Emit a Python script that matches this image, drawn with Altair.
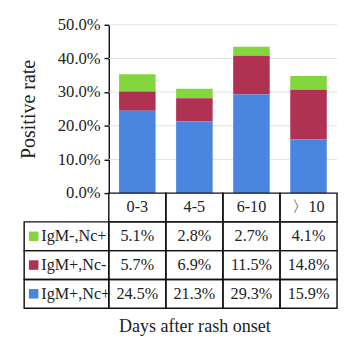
import altair as alt
import pandas as pd

categories = ["0-3", "4-5", "6-10", "〉10"]
series = ["IgM-,Nc+", "IgM+,Nc-", "IgM+,Nc+"]
green_vals = [5.1, 2.8, 2.7, 4.1]
red_vals = [5.7, 6.9, 11.5, 14.8]
blue_vals = [24.5, 21.3, 29.3, 15.9]
colors = ["#84D63E", "#B03252", "#4A86E0"]
y_ticks = [0, 10, 20, 30, 40, 50]

FONT = "Liberation Serif"
LEG = -1.483  # legend column start, in column units
W = 329
px_per_col = W / (4 - LEG)

vals = {"IgM-,Nc+": green_vals, "IgM+,Nc-": red_vals, "IgM+,Nc+": blue_vals}
stack_order = {"IgM+,Nc+": 0, "IgM+,Nc-": 1, "IgM-,Nc+": 2}
rows = []
for r, s in enumerate(series):
    for i, c in enumerate(categories):
        v = vals[s][i]
        rows.append(dict(series=s, cat=c, col=i, value=v, order=stack_order[s],
                         row=r + 1, label=f"{v:.1f}%"))
df = pd.DataFrame(rows)

xscale = alt.Scale(domain=[LEG, 4], nice=False, zero=False)
yscale = alt.Scale(domain=[0, 50], nice=False, zero=True)
cscale = alt.Scale(domain=series, range=colors)

yaxis = alt.Axis(
    values=y_ticks, labelExpr="format(datum.value, '.1f') + '%'",
    grid=False, offset=LEG * px_per_col, tickSize=5, tickColor="#111",
    domainColor="#111", domainWidth=1.5, tickWidth=1.5,
    labelFont=FONT, labelFontSize=17.5, labelColor="#222", labelPadding=4,
    title="Positive rate", titleFont=FONT, titleFontSize=21,
    titleFontWeight="normal", titleColor="#222", titlePadding=20)

grid_df = pd.DataFrame({"v": y_ticks[1:], "x0": 0, "x1": len(categories)})
grid = alt.Chart(grid_df).mark_rule(color="#D9E3E3", strokeWidth=1).encode(
    x=alt.X("x0:Q", scale=xscale, axis=None),
    x2="x1:Q",
    y=alt.Y("v:Q", scale=yscale, axis=yaxis, title="Positive rate"),
)

bars = alt.Chart(df).transform_stack(
    stack="value", as_=["y0", "y1"], groupby=["col"],
    sort=[alt.SortField("order", "ascending")]
).transform_calculate(
    xa="datum.col + 0.18", xb="datum.col + 0.82"
).mark_rect().encode(
    x=alt.X("xa:Q", scale=xscale, axis=None),
    x2="xb:Q",
    y=alt.Y("y0:Q", scale=yscale, axis=yaxis, title="Positive rate"),
    y2="y1:Q",
    color=alt.Color("series:N", scale=cscale, legend=None),
)

top = alt.layer(grid, bars).properties(width=W, height=177)

# table
cell_rows = []
for i in range(len(categories)):
    cell_rows.append(dict(x0=i, x1=i + 1, r0=0, r1=1))
for r in range(1, len(series) + 1):
    cell_rows.append(dict(x0=LEG, x1=0, r0=r, r1=r + 1))
    for i in range(len(categories)):
        cell_rows.append(dict(x0=i, x1=i + 1, r0=r, r1=r + 1))
cells_df = pd.DataFrame(cell_rows)

tscale = alt.Scale(domain=[0, 4], nice=False, zero=False, reverse=True)

cells = alt.Chart(cells_df).mark_rect(
    fill="white", fillOpacity=0, stroke="#111", strokeWidth=1.5
).encode(
    x=alt.X("x0:Q", scale=xscale, axis=alt.Axis(
        title="Days after rash onset", labels=False, ticks=False, domain=False,
        grid=False, titleFont=FONT, titleFontSize=19, titleFontWeight="normal",
        titleColor="#222", titlePadding=10, titleX=179)),
    x2="x1:Q",
    y=alt.Y("r0:Q", scale=tscale, axis=None),
    y2="r1:Q",
)

hdr_df = pd.DataFrame({"cat": categories, "col": list(range(len(categories)))})
hdr = alt.Chart(hdr_df).transform_calculate(
    xc="datum.col + 0.5", yc="0.5"
).mark_text(font=FONT, fontSize=17, color="#222").encode(
    x=alt.X("xc:Q", scale=xscale), y=alt.Y("yc:Q", scale=tscale), text="cat:N"
)

cell_txt = alt.Chart(df).transform_calculate(
    xc="datum.col + 0.5", yc="datum.row + 0.5"
).mark_text(font=FONT, fontSize=17, color="#222").encode(
    x=alt.X("xc:Q", scale=xscale), y=alt.Y("yc:Q", scale=tscale), text="label:N"
)

leg_df = pd.DataFrame({"series": series, "row": list(range(1, len(series) + 1))})
leg_sq = alt.Chart(leg_df).transform_calculate(
    xl=str(LEG), yc="datum.row + 0.5"
).mark_square(size=100, opacity=1, xOffset=10).encode(
    x=alt.X("xl:Q", scale=xscale), y=alt.Y("yc:Q", scale=tscale),
    color=alt.Color("series:N", scale=cscale, legend=None),
)
leg_txt = alt.Chart(leg_df).transform_calculate(
    xl=str(LEG), yc="datum.row + 0.5"
).mark_text(font=FONT, fontSize=17, color="#222", align="left", dx=18).encode(
    x=alt.X("xl:Q", scale=xscale), y=alt.Y("yc:Q", scale=tscale), text="series:N"
)

bottom = alt.layer(cells, hdr, cell_txt, leg_sq, leg_txt).properties(width=W, height=121)

chart = alt.vconcat(top, bottom, spacing=0, bounds="flush").configure_view(
    stroke=None
).properties(padding={"left": 10, "top": 0, "right": 0, "bottom": 0})

chart.save("out.html", embed_options={"renderer": "svg", "actions": False})
